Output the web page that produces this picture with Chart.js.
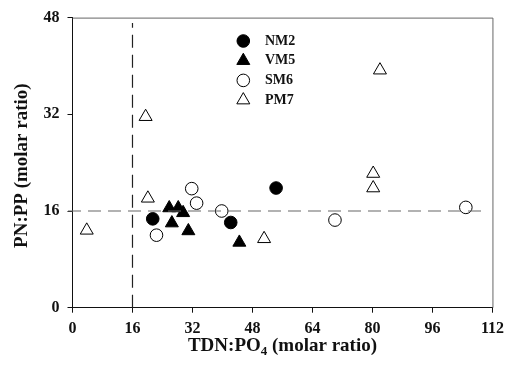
<!DOCTYPE html>
<html>
<head>
<meta charset="utf-8">
<script src="https://cdn.jsdelivr.net/npm/chart.js@4.4.1/dist/chart.umd.min.js"></script>
<style>
  html, body { margin: 0; padding: 0; background: #fff; }
</style>
</head>
<body>
<canvas id="chart" width="511" height="366"></canvas>
<script>
// Series values (TDN:PO4 on x, PN:PP on y)
const nm2X = [21.4, 42.2, 54.3];
const nm2Y = [14.7, 14.1, 19.8];
const vm5X = [25.8, 28.2, 29.5, 26.5, 30.9, 44.5];
const vm5Y = [16.5, 16.5, 15.7, 14.0, 12.7, 10.8];
const sm6X = [22.4, 31.8, 33.1, 39.8, 70.0, 104.9];
const sm6Y = [12.0, 19.7, 17.3, 16.0, 14.5, 16.6];
const pm7X = [3.8, 19.5, 20.1, 51.1, 80.2, 80.2, 82.0];
const pm7Y = [12.8, 31.6, 18.1, 11.4, 22.2, 19.8, 39.3];

const seriesNames = ['NM2', 'VM5', 'SM6', 'PM7'];
const xTicks = [0, 16, 32, 48, 64, 80, 96, 112];
const yTicks = [0, 16, 32, 48];
const redfield = 16; // reference ratio for both dashed lines

const FONT = "'Liberation Serif', 'Times New Roman', serif";

function toPoints(xs, ys) {
    return xs.map((x, i) => ({ x: x, y: ys[i] }));
}

function series(label, xs, ys, style, filled) {
    return {
        label,
        data: toPoints(xs, ys),
        pointStyle: style,
        pointRadius: style === 'triangle' ? 7.5 : 6.3,
        pointBackgroundColor: filled ? '#000' : '#fff',
        pointBorderColor: '#000',
        pointBorderWidth: 1,
        showLine: false,
        isSeries: true
    };
}

function refLine(points, color) {
    return {
        data: points,
        showLine: true,
        pointRadius: 0,
        borderColor: color,
        borderWidth: 1.2,
        borderDash: [13, 7],
        clip: false,
        isSeries: false
    };
}

// Frame on top/right, axis titles and inset legend
const decorPlugin = {
    id: 'decor',
    beforeDatasetsDraw(chart) {
        const { ctx, chartArea: a } = chart;
        ctx.save();
        ctx.strokeStyle = '#666';
        ctx.lineWidth = 1;
        ctx.beginPath();
        ctx.moveTo(a.left, a.top + 0.5);
        ctx.lineTo(a.right + 0.5, a.top + 0.5);
        ctx.lineTo(a.right + 0.5, a.bottom);
        ctx.stroke();
        ctx.restore();
    },
    afterDraw(chart) {
        const { ctx, chartArea: a } = chart;
        ctx.save();
        ctx.fillStyle = '#111';

        // x title with subscript
        ctx.font = 'bold 19px ' + FONT;
        ctx.textBaseline = 'alphabetic';
        const p1 = 'TDN:PO', sub = '4', p2 = ' (molar ratio)';
        const w1 = ctx.measureText(p1).width;
        const w3 = ctx.measureText(p2).width;
        ctx.font = 'bold 13px ' + FONT;
        const w2 = ctx.measureText(sub).width;
        let x = (a.left + a.right) / 2 - (w1 + w2 + w3) / 2;
        const by = 351;
        ctx.font = 'bold 19px ' + FONT;
        ctx.textAlign = 'left';
        ctx.fillText(p1, x, by);
        ctx.font = 'bold 13px ' + FONT;
        ctx.fillText(sub, x + w1, by + 4);
        ctx.font = 'bold 19px ' + FONT;
        ctx.fillText(p2, x + w1 + w2, by);

        // y title
        ctx.translate(22, (a.top + a.bottom) / 2 + 3);
        ctx.rotate(-Math.PI / 2);
        ctx.textAlign = 'center';
        ctx.textBaseline = 'middle';
        ctx.fillText('PN:PP (molar ratio)', 0, 0);
        ctx.restore();

        // legend
        ctx.save();
        ctx.font = 'bold 14px ' + FONT;
        ctx.textAlign = 'left';
        ctx.textBaseline = 'middle';
        let row = 0;
        chart.data.datasets.forEach(ds => {
            if (!ds.isSeries) return;
            const y = 41 + row * 19.7;
            ctx.fillStyle = ds.pointBackgroundColor;
            ctx.strokeStyle = ds.pointBorderColor;
            ctx.lineWidth = 1;
            Chart.helpers.drawPoint(ctx, {
                pointStyle: ds.pointStyle,
                radius: ds.pointRadius,
                rotation: 0,
                borderWidth: 1
            }, 243.3, y);
            ctx.fillStyle = '#111';
            ctx.fillText(ds.label, 265, y);
            row++;
        });
        ctx.restore();
    }
};

const tickFont = { family: FONT, size: 16, weight: 'bold' };

new Chart(document.getElementById('chart'), {
    type: 'scatter',
    data: {
        datasets: [
            refLine([{ x: -1.2, y: redfield }, { x: 110.5, y: redfield }], '#666'),
            refLine([{ x: redfield, y: 0 }, { x: redfield, y: 47.1 }], '#222'),
            series(seriesNames[0], nm2X, nm2Y, 'circle', true),
            series(seriesNames[1], vm5X, vm5Y, 'triangle', true),
            series(seriesNames[2], sm6X, sm6Y, 'circle', false),
            series(seriesNames[3], pm7X, pm7Y, 'triangle', false)
        ]
    },
    options: {
        responsive: false,
        animation: false,
        layout: { padding: { top: 15.3, right: 18.5, left: 0, bottom: 0 } },
        plugins: {
            legend: { display: false },
            tooltip: { enabled: false }
        },
        scales: {
            x: {
                type: 'linear',
                min: 0,
                max: 112,
                afterBuildTicks: scale => { scale.ticks = xTicks.map(v => ({ value: v })); },
                afterFit: scale => { scale.height = 58.3; },
                ticks: { font: tickFont, color: '#111', padding: 7, maxRotation: 0 },
                grid: { drawOnChartArea: false, drawTicks: true, tickLength: 5, color: '#111' },
                border: { color: '#111', width: 1 }
            },
            y: {
                type: 'linear',
                min: 0,
                max: 48,
                afterBuildTicks: scale => { scale.ticks = yTicks.map(v => ({ value: v })); },
                afterFit: scale => { scale.width = 72.5; },
                ticks: { font: tickFont, color: '#111', padding: 8 },
                grid: { drawOnChartArea: false, drawTicks: true, tickLength: 5, color: '#111' },
                border: { color: '#111', width: 1 }
            }
        }
    },
    plugins: [decorPlugin]
});
</script>
</body>
</html>
